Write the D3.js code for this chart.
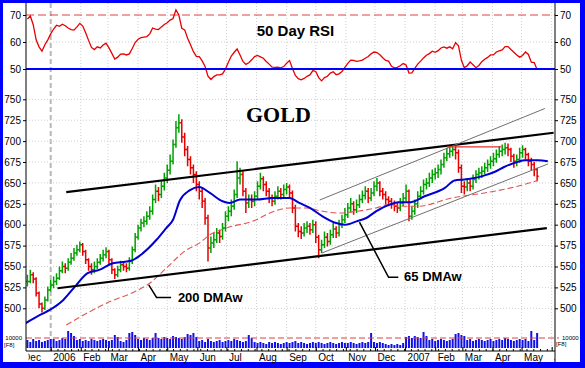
<!DOCTYPE html>
<html>
<head>
<meta charset="utf-8">
<script src="https://cdn.jsdelivr.net/npm/d3@7"></script>
<style>
  body { margin: 0; background: #0000ff; }
  svg { display: block; }
</style>
</head>
<body>
<svg id="chart" width="585" height="368"></svg>
<script>
// ---- data ----
// one price bar every 3 calendar days, first bar 8 Dec 2005
const firstBar = [2005, 11, 8];
const barStep = 3;

const closes = [
  532,540,535,518,505,500,510,522,528,532,
  536,545,550,548,555,560,566,570,576,568,
  558,550,546,550,555,560,564,568,558,546,
  540,546,552,550,548,556,570,585,596,602,
  604,610,616,630,640,636,646,656,665,676,
  696,716,722,705,690,678,668,660,648,640,
  628,608,572,578,582,590,586,596,610,616,
  622,636,656,660,640,626,630,628,634,646,
  655,648,640,632,628,634,640,636,642,645,
  638,620,598,592,590,596,598,594,600,585,
  570,576,585,580,588,595,590,600,606,612,
  620,625,618,624,630,635,640,632,638,646,
  650,640,636,630,628,625,622,620,626,632,
  640,610,616,625,634,640,648,650,656,660,
  662,666,672,680,685,688,690,686,668,646,
  645,650,646,654,660,662,664,668,672,676,
  679,684,688,690,692,690,682,676,678,686,
  690,684,676,672,666,658
];
const highs = [
  540,546,543,537,520,507,514,526,534,538,
  542,550,556,554,560,566,572,576,580,578,
  570,560,554,556,560,565,570,573,570,560,
  548,551,557,556,554,561,574,590,600,607,
  610,616,622,636,648,645,652,662,672,684,
  702,724,732,726,710,694,682,672,664,652,
  644,632,612,586,590,596,594,602,616,622,
  630,642,676,668,664,644,636,636,640,652,
  662,658,652,644,636,640,646,644,648,650,
  648,641,624,602,598,602,604,602,606,604,
  588,582,592,590,594,602,598,606,612,620,
  626,632,628,630,636,641,646,644,644,652,
  656,652,644,640,634,632,629,626,632,638,
  648,642,622,630,640,646,654,656,662,666,
  668,672,678,686,692,694,696,694,690,672,
  652,656,654,660,665,668,670,674,678,682,
  686,690,694,696,698,697,692,685,684,692,
  695,692,686,680,675,668
];
const lows = [
  526,530,530,514,500,495,498,508,520,524,
  528,534,542,542,545,552,557,563,567,563,
  553,545,540,542,547,552,556,560,553,541,
  535,537,543,545,543,545,553,567,582,592,
  597,600,606,612,626,628,632,641,650,660,
  672,692,710,698,682,670,660,650,640,630,
  620,600,556,566,572,578,578,582,592,604,
  610,618,632,648,634,614,620,620,622,630,
  642,640,634,626,622,624,630,630,632,636,
  632,614,592,585,583,586,590,588,590,578,
  560,566,572,574,576,584,584,586,596,602,
  608,615,612,614,620,626,630,626,628,634,
  640,634,630,624,622,619,616,614,616,622,
  628,604,606,612,620,630,636,642,645,650,
  654,656,660,668,676,680,682,678,662,638,
  636,640,640,642,650,654,656,660,663,667,
  670,674,680,682,684,682,675,668,670,674,
  680,678,670,665,658,652
];
const rsi = [
  68.5,69.6,66.4,60.8,58.2,56.6,59.0,60.8,63.0,64.8,
  66.2,65.8,66.6,66.0,65.2,64.6,64.4,65.6,66.9,65.9,
  63.4,60.6,58.0,57.2,58.2,57.8,58.9,59.6,57.8,55.8,
  53.7,54.4,55.5,55.6,55.2,55.6,57.6,59.8,61.0,61.6,
  61.8,62.0,63.0,65.2,64.8,64.6,65.6,66.5,67.1,68.1,
  68.7,71.9,70.0,65.1,64.5,61.4,59.0,56.4,54.7,54.6,
  53.0,50.9,47.3,46.1,47.2,47.8,47.8,48.2,50.0,52.5,
  54.8,56.2,57.4,55.2,52.8,51.7,52.3,53.4,54.6,55.0,
  54.5,54.0,52.8,51.8,50.7,50.6,50.7,50.4,50.9,52.1,
  53.1,50.2,47.6,46.4,46.0,46.5,47.3,47.8,49.4,49.1,
  46.8,45.6,46.8,47.3,48.5,49.0,47.9,48.2,49.1,50.6,
  52.1,53.3,53.2,52.8,53.0,53.3,54.0,54.6,55.6,56.3,
  56.1,55.3,54.2,53.2,52.9,51.0,50.4,50.6,51.2,52.0,
  51.5,48.5,48.6,50.2,51.8,52.9,54.1,55.1,55.7,56.6,
  56.2,56.8,57.8,58.2,57.7,58.2,57.5,59.8,58.6,53.2,
  50.5,51.2,52.6,51.6,50.5,51.3,52.7,53.6,54.3,55.2,
  55.2,56.3,56.7,57.1,58.3,58.3,57.2,56.2,55.2,54.4,
  55.0,56.3,55.4,52.5,52.4,49.7
];
const volume = [
  8000,6000,9000,7000,8000,6000,7000,8000,9000,
  9000,7000,8000,10000,9000,
  17000,15000,12000,
  8000,9000,7000,8000,7000,9000,8000,7000,8000,9000,8000,7000,8000,
  13000,11000,
  7000,6000,8000,
  15000,16000,13000,
  9000,8000,10000,9000,8000,10000,
  15000,
  10000,9000,11000,10000,9000,12000,11000,10000,9000,11000,
  14000,13000,15000,11000,
  7000,8000,6000,9000,7000,6000,7000,8000,6000,7000,8000,7000,9000,8000,7000,6000,7000,
  13000,10000,
  6000,5000,6000,5000,4000,6000,5000,6000,5000,4000,
  5000,6000,5000,6000,7000,5000,6000,5000,4000,5000,
  6000,5000,6000,5000,4000,5000,6000,5000,4000,5000,
  6000,5000,5000,6000,5000,4000,5000,6000,5000,6000,
  15000,
  6000,5000,6000,5000,
  4000,3000,4000,3000,4000,3000,5000,
  11000,12000,10000,12000,11000,10000,16000,12000,
  8000,9000,7000,8000,9000,8000,7000,8000,9000,
  14000,15000,13000,12000,
  8000,9000,7000,8000,9000,8000,7000,8000,9000,7000,8000,
  9000,8000,10000,9000,8000,7000,8000,9000,8000,9000,7000,
  17000,8000,15000
];

// 65 day weighted moving average (blue) and 200 day (red dashed)
const ma65 = [
  ["2005-12-06",482],["2005-12-21",492],["2005-12-31",498],["2006-01-14",510],
  ["2006-01-26",526],["2006-02-08",542],["2006-02-20",546],["2006-03-06",554],
  ["2006-03-20",556],["2006-03-27",558],["2006-04-06",566],["2006-04-20",582],
  ["2006-04-30",596],["2006-05-07",606],["2006-05-14",629],["2006-05-24",641],
  ["2006-06-03",645],["2006-06-14",638],["2006-06-27",628],["2006-07-04",626],
  ["2006-07-15",630],["2006-08-01",630],["2006-08-18",632],["2006-09-04",632],
  ["2006-09-14",626],["2006-09-25",620],["2006-10-08",610],["2006-10-22",602],
  ["2006-10-31",600],["2006-11-12",604],["2006-11-22",608],["2006-12-02",616],
  ["2006-12-16",624],["2006-12-25",627],["2007-01-07",627],["2007-01-21",634],
  ["2007-02-11",644],["2007-02-21",653],["2007-03-03",654],["2007-03-14",656],
  ["2007-03-24",659],["2007-04-03",663],["2007-04-13",669],["2007-04-24",674],
  ["2007-05-04",677],["2007-05-18",677],["2007-05-28",676]
];
const ma200 = [
  ["2006-01-17",480],["2006-02-07",494],["2006-03-03",508],["2006-03-27",519],
  ["2006-04-13",530],["2006-04-30",548],["2006-05-21",570],["2006-06-03",578],
  ["2006-06-14",588],["2006-07-01",596],["2006-08-01",606],["2006-08-11",612],
  ["2006-09-04",620],["2006-09-21",620],["2006-10-08",616],["2006-10-25",614],
  ["2006-11-12",616],["2006-12-02",620],["2006-12-16",624],["2006-12-28",622],
  ["2007-01-14",622],["2007-02-18",632],["2007-03-24",638],["2007-04-27",646],
  ["2007-05-18",653]
];

// hand drawn lines on the chart
const trendLines = [
  { kind: "major",   pts: [["2006-01-17",639],["2007-06-03",710]] },
  { kind: "major",   pts: [["2006-01-08",524],["2007-05-27",596]] },
  { kind: "channel", pts: [["2006-10-05",629.5],["2007-05-25",739]] },
  { kind: "channel", pts: [["2006-10-07",566],["2007-05-28",672.6]] },
  { kind: "resist",  pts: [["2007-02-13",693],["2007-04-10",693]] }
];
const notes = [
  { text: "200 DMAw", pts: [["2006-04-12",528],["2006-04-20",513],["2006-05-05",513]], at: ["2006-05-12",513] },
  { text: "65 DMAw",  pts: [["2006-11-15",603],["2006-12-15",537],["2006-12-25",537]], at: ["2006-12-31",538] }
];

const priceTicks = [500,525,550,575,600,625,650,675,700,725,750];
const rsiTicks = [50,60,70];

// ---- layout ----
const svg = d3.select("#chart");
const left = 26, right = 555;
const rsiBox = [3, 87], priceBox = [88, 326], volBox = [326, 351];
const font = "Arial, 'Liberation Sans', sans-serif";

const parse = d3.timeParse("%Y-%m-%d");
const x = d3.scaleTime()
  .domain([new Date(2006, 0, 1), new Date(2007, 5, 1)])
  .range([50.7, 551.7]);
const yRsi = d3.scaleLinear().domain([50, 70]).range([69, 15]);
const yPrice = d3.scaleLinear().domain([500, 750]).range([308.3, 99.3]);
const yVol = d3.scaleLinear().domain([0, 10000]).range([348, 338]);

const bars = closes.map((c, i) => ({
  date: new Date(firstBar[0], firstBar[1], firstBar[2] + barStep * i),
  open: i ? closes[i - 1] : c,
  close: c, hi: highs[i], lo: lows[i], rsi: rsi[i], vol: volume[i]
}));

// frame
svg.append("rect").attr("width", 585).attr("height", 368).attr("fill", "#0000ff");
svg.append("rect").attr("x", 3).attr("y", 3).attr("width", 577).attr("height", 359).attr("fill", "#fff");

const defs = svg.append("defs");
function clip(id, y0, y1, x0 = left) {
  defs.append("clipPath").attr("id", id)
    .append("rect").attr("x", x0).attr("y", y0).attr("width", right - x0).attr("height", y1 - y0);
}
clip("cRsi", rsiBox[0], rsiBox[1]);
clip("cPrice", priceBox[0], priceBox[1]);
clip("cVol", volBox[0], volBox[1]);
clip("cAxis", 340, 368, 28.5);

// grid
const grid = svg.append("g");
const months = d3.timeMonth.range(new Date(2005, 11, 1), new Date(2007, 5, 2))
  .filter(d => x(d) > left && x(d) < right);
const isYearLine = d => d.getMonth() === 0 && d.getFullYear() === 2006;
grid.selectAll("line.v").data(months).join("line")
  .attr("x1", d => x(d)).attr("x2", d => x(d))
  .attr("y1", rsiBox[0]).attr("y2", volBox[1])
  .attr("stroke", d => isYearLine(d) ? "#b8b8b8" : "#cfcfcf")
  .attr("stroke-width", d => isYearLine(d) ? 2 : 1)
  .attr("stroke-dasharray", d => isYearLine(d) ? "5,3" : "1,2");
grid.selectAll("line.h").data(priceTicks).join("line")
  .attr("x1", left).attr("x2", right)
  .attr("y1", d => yPrice(d)).attr("y2", d => yPrice(d))
  .attr("stroke", "#cfcfcf").attr("stroke-dasharray", "1,2");
grid.append("line").attr("x1", left).attr("x2", right)
  .attr("y1", yRsi(60)).attr("y2", yRsi(60))
  .attr("stroke", "#cfcfcf").attr("stroke-dasharray", "1,2");

// RSI panel
const gRsi = svg.append("g").attr("clip-path", "url(#cRsi)");
gRsi.append("line").attr("x1", left).attr("x2", right)
  .attr("y1", yRsi(70)).attr("y2", yRsi(70))
  .attr("stroke", "#e04040").attr("stroke-dasharray", "8,4");
gRsi.append("path").datum(bars)
  .attr("fill", "none").attr("stroke", "#e80000").attr("stroke-width", 1.3)
  .attr("d", d3.line().x(d => x(d.date)).y(d => yRsi(d.rsi)));
gRsi.append("line").attr("x1", left).attr("x2", right)
  .attr("y1", yRsi(50)).attr("y2", yRsi(50))
  .attr("stroke", "#0000ff").attr("stroke-width", 2);
svg.append("text").attr("x", 295.5).attr("y", 36)
  .attr("text-anchor", "middle").attr("font-family", font)
  .attr("font-size", 15).attr("font-weight", "bold").text("50 Day RSI");

// price panel
const gPrice = svg.append("g").attr("clip-path", "url(#cPrice)");
gPrice.selectAll("path.bar").data(bars).join("path")
  .attr("fill", "none")
  .attr("stroke", d => d.close >= d.open ? "#00a000" : "#e60000")
  .attr("stroke-width", 1.5)
  .attr("d", d => {
    const cx = x(d.date);
    return `M${cx},${yPrice(d.lo)}V${yPrice(d.hi)}` +
           `M${cx - 1.6},${yPrice(d.open)}H${cx}` +
           `M${cx},${yPrice(d.close)}H${cx + 1.6}`;
  });

const maLine = d3.line().curve(d3.curveMonotoneX)
  .x(d => x(parse(d[0]))).y(d => yPrice(d[1]));
gPrice.append("path").datum(ma200)
  .attr("fill", "none").attr("stroke", "#e05555").attr("stroke-width", 1.1)
  .attr("stroke-dasharray", "6,3").attr("d", maLine);
gPrice.append("path").datum(ma65)
  .attr("fill", "none").attr("stroke", "#0000d0").attr("stroke-width", 2)
  .attr("d", maLine);

const straight = d3.line().x(d => x(parse(d[0]))).y(d => yPrice(d[1]));
const lineStyle = {
  major:   { stroke: "#000", width: 2.2 },
  channel: { stroke: "#707070", width: 1 },
  resist:  { stroke: "#e03030", width: 1.2 }
};
gPrice.selectAll("path.trend").data(trendLines).join("path")
  .attr("fill", "none")
  .attr("stroke", d => lineStyle[d.kind].stroke)
  .attr("stroke-width", d => lineStyle[d.kind].width)
  .attr("d", d => straight(d.pts));

gPrice.selectAll("path.note").data(notes).join("path")
  .attr("fill", "none").attr("stroke", "#000").attr("stroke-width", 1.5)
  .attr("d", d => straight(d.pts));
gPrice.selectAll("text.note").data(notes).join("text")
  .attr("x", d => x(parse(d.at[0]))).attr("y", d => yPrice(d.at[1]))
  .attr("dy", "0.36em").attr("font-family", font)
  .attr("font-size", 13).attr("font-weight", "bold").text(d => d.text);

svg.append("text").attr("x", 246).attr("y", 121.7)
  .attr("font-family", "'Liberation Serif', 'Times New Roman', serif")
  .attr("font-size", 22).attr("font-weight", "bold").text("GOLD");

// volume panel
const gVol = svg.append("g").attr("clip-path", "url(#cVol)");
gVol.selectAll("rect").data(bars).join("rect")
  .attr("x", d => x(d.date) - 1).attr("width", 2)
  .attr("y", d => yVol(d.vol)).attr("height", d => yVol(0) - yVol(d.vol))
  .attr("fill", "#1010e8");
svg.append("line").attr("x1", left).attr("x2", right + 4)
  .attr("y1", yVol(10000)).attr("y2", yVol(10000))
  .attr("stroke", "#e04040").attr("stroke-dasharray", "6,3");

// axes frame
const frame = svg.append("g").attr("stroke", "#000").attr("stroke-width", 1);
frame.append("line").attr("x1", left).attr("x2", left).attr("y1", 3).attr("y2", volBox[1]);
frame.append("line").attr("x1", right).attr("x2", right).attr("y1", 3).attr("y2", 362);
frame.append("line").attr("x1", left).attr("x2", right).attr("y1", volBox[1]).attr("y2", volBox[1]);

function styleAxis(g) {
  g.select(".domain").remove();
  g.selectAll("text").attr("font-family", font).attr("font-size", 10).attr("fill", "#000");
}
svg.append("g").attr("transform", `translate(${left},0)`)
  .call(d3.axisLeft(yPrice).tickValues(priceTicks).tickSize(3).tickPadding(2)).call(styleAxis);
svg.append("g").attr("transform", `translate(${right},0)`)
  .call(d3.axisRight(yPrice).tickValues(priceTicks).tickSize(3).tickPadding(2)).call(styleAxis);
svg.append("g").attr("transform", `translate(${left},0)`)
  .call(d3.axisLeft(yRsi).tickValues(rsiTicks).tickSize(3).tickPadding(2)).call(styleAxis);
svg.append("g").attr("transform", `translate(${right},0)`)
  .call(d3.axisRight(yRsi).tickValues(rsiTicks).tickSize(3).tickPadding(2)).call(styleAxis);

// volume scale labels
const volLab = svg.append("g").attr("font-family", font).attr("font-size", 6);
volLab.append("text").attr("x", 22).attr("y", yVol(10000)).attr("dy", "0.35em")
  .attr("text-anchor", "end").text("10000");
volLab.append("text").attr("x", 4).attr("y", yVol(10000) + 7).attr("dy", "0.35em").text("[F8]");
volLab.append("text").attr("x", 562).attr("y", yVol(10000)).attr("dy", "0.35em").text("10000");
volLab.append("text").attr("x", 556).attr("y", yVol(10000) + 6).attr("dy", "0.35em").text("[F8]");

// time axis (clip on an untransformed wrapper so the clip box is in page units)
const fmt = d => d.getMonth() === 0 ? d3.timeFormat("%Y")(d) : d3.timeFormat("%b")(d);
const axisWrap = svg.append("g").attr("clip-path", "url(#cAxis)");
const gx = axisWrap.append("g").attr("transform", `translate(0,${volBox[1]})`)
  .call(d3.axisBottom(x).tickValues(d3.timeMonth.range(new Date(2005, 11, 1), new Date(2007, 5, 2)))
    .tickFormat(fmt).tickSizeInner(-4).tickSizeOuter(0).tickPadding(3));
gx.select(".domain").remove();
gx.selectAll("text").attr("text-anchor", "start").attr("x", 2)
  .attr("font-family", font).attr("font-size", 10).attr("fill", "#000");
axisWrap.append("g").attr("transform", `translate(0,${volBox[1]})`)
  .call(d3.axisBottom(x).ticks(d3.timeWeek).tickFormat("").tickSizeInner(-2).tickSizeOuter(0))
  .select(".domain").remove();
</script>
</body>
</html>
